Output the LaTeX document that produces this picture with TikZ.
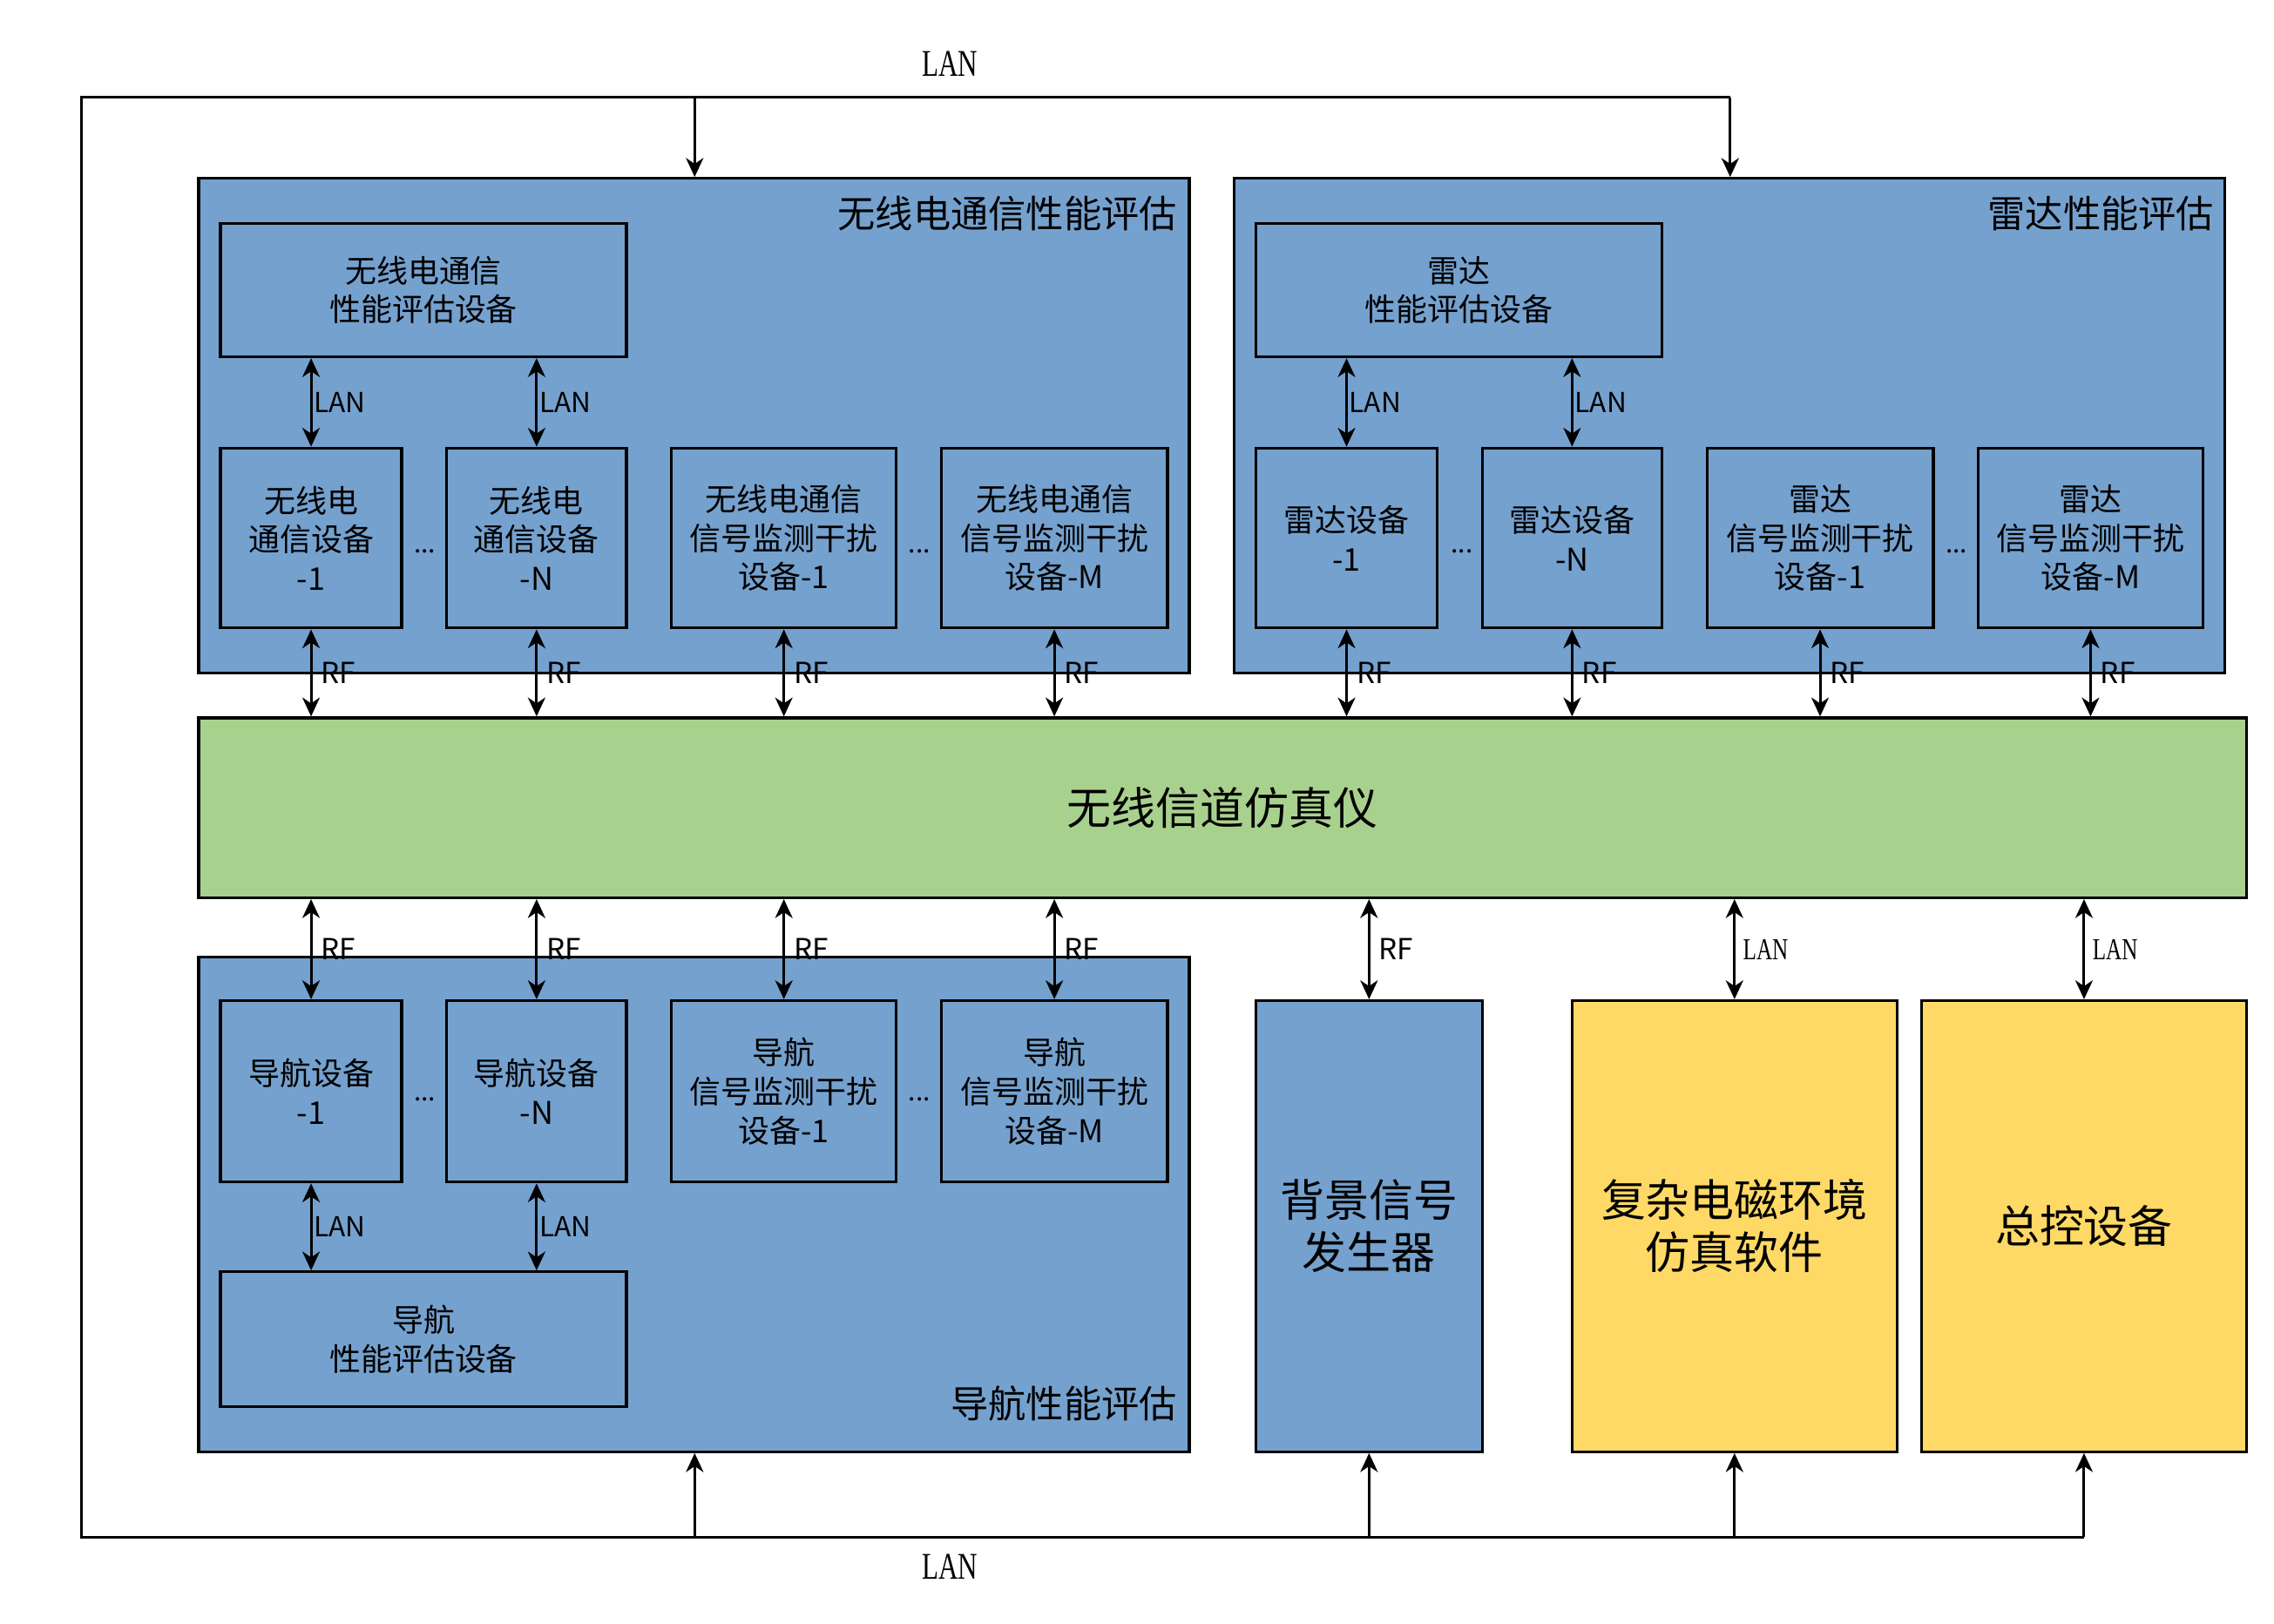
\documentclass[tikz,border=0pt]{standalone}
\usepackage{fontspec}
\setmainfont{Noto Sans CJK SC}
\newfontfamily\lanserif{Liberation Serif}
\usetikzlibrary{arrows.meta,fit}
\definecolor{cblue}{HTML}{75A1CE}
\definecolor{cgreen}{HTML}{A9D18E}
\definecolor{cyellow}{HTML}{FFD966}
\begin{document}
\begin{tikzpicture}[x=0.5pt,y=-0.5pt,
  tip/.tip={Stealth[length=6.5pt,width=6pt,inset=2pt]},
  box/.style={draw=black,line width=1pt,fill=cblue,inner sep=0pt,align=center,
    font=\fontsize{10.8}{13.4}\selectfont},
  bigbox/.style={box,font=\fontsize{15.3}{18}\selectfont},
  grp/.style={draw=black,line width=1pt,fill=cblue,inner sep=0pt},
  grptitle/.style={anchor=east,inner sep=0pt,font=\fontsize{13}{15}\selectfont},
  dar/.style={tip-tip,line width=0.9pt},
  sar/.style={-tip,line width=0.9pt},
  loopline/.style={line width=1pt},
  lab/.style={right,inner sep=0.5pt,font=\fontsize{9.5}{11}\selectfont},
  rflab/.style={right,inner sep=0pt,xshift=3pt,font=\fontsize{10}{12}\selectfont},
  slan/.style={right,inner sep=0pt,xshift=2.5pt,font=\lanserif\fontsize{10.5}{12}\selectfont},
  dots/.style={anchor=base,inner sep=0pt,font=\fontsize{9}{11}\selectfont}]
\useasboundingbox (0,0) rectangle (1568,1119.3);

% group containers
\node[grp,fit={(137,123) (820,464)}] (rc) {};
\node[grp,fit={(851,123) (1534,464)}] (rd) {};
\node[grp,fit={(137,660) (820,1001)}] (nv) {};
\node[grptitle] (rct) at (812,147) {无线电通信性能评估};
\node[grptitle] (rdt) at (1527,147) {雷达性能评估};
\node[grptitle] (nvt) at (812,968) {导航性能评估};

% channel simulator
\node[bigbox,fill=cgreen,fit={(137,495) (1549,619)}] (ch) {};
\node[inner sep=0pt,font=\fontsize{15.3}{18}\selectfont] (cht) at (ch.center) {无线信道仿真仪};

% radio boxes
\node[box,fit={(152,154) (432,246)}] (re) {};
\node[align=center,font=\fontsize{10.8}{13.4}\selectfont] at (re.center) {无线电通信\\性能评估设备};
\node[box,fit={(152,309) (277,433)}] (r1) {};
\node[align=center,font=\fontsize{10.8}{13.4}\selectfont] at (r1.center) {无线电\\通信设备\\-1};
\node[box,fit={(308,309) (432,433)}] (r2) {};
\node[align=center,font=\fontsize{10.8}{13.4}\selectfont] at (r2.center) {无线电\\通信设备\\-N};
\node[box,fit={(463,309) (618,433)}] (r3) {};
\node[align=center,font=\fontsize{10.8}{13.4}\selectfont] at (r3.center) {无线电通信\\信号监测干扰\\设备-1};
\node[box,fit={(649,309) (805,433)}] (r4) {};
\node[align=center,font=\fontsize{10.8}{13.4}\selectfont] at (r4.center) {无线电通信\\信号监测干扰\\设备-M};

% radar boxes
\node[box,fit={(866,154) (1146,246)}] (de) {};
\node[align=center,font=\fontsize{10.8}{13.4}\selectfont] at (de.center) {雷达\\性能评估设备};
\node[box,fit={(866,309) (991,433)}] (d1) {};
\node[align=center,font=\fontsize{10.8}{13.4}\selectfont] at (d1.center) {雷达设备\\-1};
\node[box,fit={(1022,309) (1146,433)}] (d2) {};
\node[align=center,font=\fontsize{10.8}{13.4}\selectfont] at (d2.center) {雷达设备\\-N};
\node[box,fit={(1177,309) (1333,433)}] (d3) {};
\node[align=center,font=\fontsize{10.8}{13.4}\selectfont] at (d3.center) {雷达\\信号监测干扰\\设备-1};
\node[box,fit={(1364,309) (1519,433)}] (d4) {};
\node[align=center,font=\fontsize{10.8}{13.4}\selectfont] at (d4.center) {雷达\\信号监测干扰\\设备-M};

% navigation boxes
\node[box,fit={(152,690) (277,815)}] (n1) {};
\node[align=center,font=\fontsize{10.8}{13.4}\selectfont] at (n1.center) {导航设备\\-1};
\node[box,fit={(308,690) (432,815)}] (n2) {};
\node[align=center,font=\fontsize{10.8}{13.4}\selectfont] at (n2.center) {导航设备\\-N};
\node[box,fit={(463,690) (618,815)}] (n3) {};
\node[align=center,font=\fontsize{10.8}{13.4}\selectfont] at (n3.center) {导航\\信号监测干扰\\设备-1};
\node[box,fit={(649,690) (805,815)}] (n4) {};
\node[align=center,font=\fontsize{10.8}{13.4}\selectfont] at (n4.center) {导航\\信号监测干扰\\设备-M};
\node[box,fit={(152,877) (432,970)}] (ne) {};
\node[align=center,font=\fontsize{10.8}{13.4}\selectfont] at (ne.center) {导航\\性能评估设备};

% right-hand boxes
\node[box,fit={(866,690) (1022,1001)}] (bg) {};
\node[align=center,font=\fontsize{15.3}{18}\selectfont] at (bg.center) {背景信号\\发生器};
\node[box,fill=cyellow,fit={(1084,690) (1308,1001)}] (em) {};
\node[align=center,font=\fontsize{15.3}{18}\selectfont] at (em.center) {复杂电磁环境\\仿真软件};
\node[box,fill=cyellow,fit={(1325,690) (1549,1001)}] (zk) {};
\node[align=center,font=\fontsize{15.3}{18}\selectfont] at (zk.center) {总控设备};

% dots
\node[dots] (o1) at (293,381) {...};
\node[dots] (o2) at (634,381) {...};
\node[dots] (o3) at (1008,381) {...};
\node[dots] (o4) at (1349,381) {...};
\node[dots] (o5) at (293,759) {...};
\node[dots] (o6) at (634,759) {...};

% LAN inside groups
\draw[dar] (re.south -| r1.north) -- node[lab] {LAN} (r1.north);
\draw[dar] (re.south -| r2.north) -- node[lab] {LAN} (r2.north);
\draw[dar] (de.south -| d1.north) -- node[lab] {LAN} (d1.north);
\draw[dar] (de.south -| d2.north) -- node[lab] {LAN} (d2.north);
\draw[dar] (n1.south) -- node[lab] {LAN} (ne.north -| n1.south);
\draw[dar] (n2.south) -- node[lab] {LAN} (ne.north -| n2.south);

% RF to channel
\foreach \b in {r1,r2,r3,r4,d1,d2,d3,d4}{
  \draw[dar] (\b.south) -- node[rflab] {RF} (ch.north -| \b.south);
}
\foreach \b in {n1,n2,n3,n4,bg}{
  \draw[dar] (ch.south -| \b.north) -- node[rflab] {RF} (\b.north);
}
\draw[dar] (ch.south -| em.north) -- node[slan] {\scalebox{0.72}[1]{LAN}} (em.north);
\draw[dar] (ch.south -| zk.north) -- node[slan] {\scalebox{0.72}[1]{LAN}} (zk.north);

% outer LAN loop
\coordinate (tl) at (56,67);
\coordinate (bl) at (56,1060);
\coordinate (ta) at (479,67);
\coordinate (tb) at (1193,67);
\coordinate (ba) at (479,1060);
\coordinate (bz) at (zk.south |- bl);
\draw[loopline] (tb) -- (tl) -- (bl) -- (bz);
\draw[sar] (ta) -- (ta |- rc.north);
\draw[sar] (tb) -- (tb |- rd.north);
\draw[sar] (ba) -- (ba |- nv.south);
\draw[sar] (bg.south |- bl) -- (bg.south);
\draw[sar] (em.south |- bl) -- (em.south);
\draw[sar] (bz) -- (zk.south);
\node[inner sep=0pt,font=\lanserif\fontsize{13}{15}\selectfont] (lt) at (655,44) {\scalebox{0.72}[1]{LAN}};
\node[inner sep=0pt,font=\lanserif\fontsize{13}{15}\selectfont] (lb) at (655,1080) {\scalebox{0.72}[1]{LAN}};
\end{tikzpicture}
\end{document}
